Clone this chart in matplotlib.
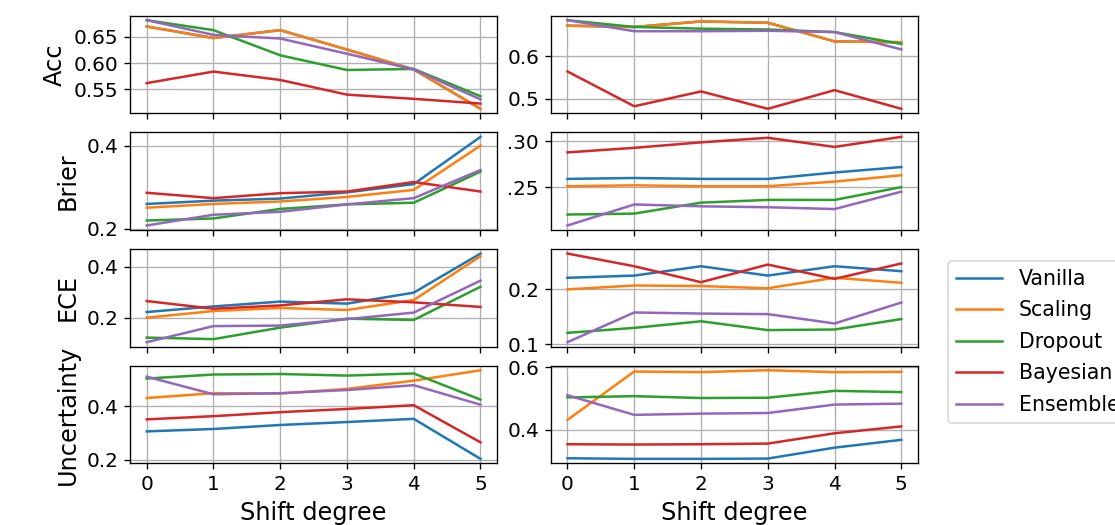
import matplotlib
matplotlib.use("Agg")
import matplotlib.pyplot as plt
from matplotlib.transforms import Bbox, TransformedBbox

shift = [0, 1, 2, 3, 4, 5]
methods = ["Vanilla", "Scaling", "Dropout", "Bayesian", "Ensemble"]
metrics = ["Acc", "Brier", "ECE", "Uncertainty"]

# ---- left column ----
left_acc_vanilla = [0.670, 0.648, 0.663, 0.626, 0.588, 0.513]
left_acc_scaling = [0.670, 0.648, 0.663, 0.626, 0.588, 0.513]
left_acc_dropout = [0.682, 0.663, 0.615, 0.587, 0.589, 0.537]
left_acc_bayesian = [0.562, 0.584, 0.568, 0.540, 0.532, 0.523]
left_acc_ensemble = [0.682, 0.654, 0.647, 0.618, 0.588, 0.531]

left_brier_vanilla = [0.260, 0.268, 0.273, 0.288, 0.308, 0.422]
left_brier_scaling = [0.251, 0.260, 0.266, 0.277, 0.294, 0.401]
left_brier_dropout = [0.220, 0.225, 0.248, 0.259, 0.263, 0.338]
left_brier_bayesian = [0.287, 0.274, 0.286, 0.290, 0.313, 0.290]
left_brier_ensemble = [0.208, 0.234, 0.241, 0.259, 0.274, 0.342]

left_ece_vanilla = [0.223, 0.245, 0.264, 0.256, 0.299, 0.452]
left_ece_scaling = [0.201, 0.227, 0.239, 0.231, 0.270, 0.442]
left_ece_dropout = [0.123, 0.117, 0.162, 0.197, 0.192, 0.322]
left_ece_bayesian = [0.266, 0.236, 0.249, 0.273, 0.261, 0.243]
left_ece_ensemble = [0.105, 0.168, 0.170, 0.195, 0.221, 0.346]

left_unc_vanilla = [0.306, 0.315, 0.330, 0.341, 0.353, 0.203]
left_unc_scaling = [0.431, 0.449, 0.448, 0.465, 0.496, 0.535]
left_unc_dropout = [0.504, 0.519, 0.521, 0.515, 0.523, 0.425]
left_unc_bayesian = [0.351, 0.363, 0.378, 0.390, 0.404, 0.265]
left_unc_ensemble = [0.511, 0.445, 0.449, 0.461, 0.479, 0.406]

# ---- right column ----
right_acc_vanilla = [0.672, 0.669, 0.682, 0.679, 0.635, 0.633]
right_acc_scaling = [0.672, 0.669, 0.682, 0.679, 0.635, 0.633]
right_acc_dropout = [0.685, 0.669, 0.665, 0.663, 0.657, 0.629]
right_acc_bayesian = [0.564, 0.482, 0.517, 0.476, 0.520, 0.476]
right_acc_ensemble = [0.685, 0.659, 0.659, 0.660, 0.657, 0.616]

right_brier_vanilla = [0.259, 0.260, 0.259, 0.259, 0.266, 0.272]
right_brier_scaling = [0.251, 0.252, 0.251, 0.251, 0.256, 0.263]
right_brier_dropout = [0.220, 0.221, 0.233, 0.236, 0.236, 0.250]
right_brier_bayesian = [0.288, 0.293, 0.299, 0.304, 0.294, 0.305]
right_brier_ensemble = [0.208, 0.231, 0.229, 0.228, 0.226, 0.245]

right_ece_vanilla = [0.221, 0.225, 0.242, 0.225, 0.242, 0.233]
right_ece_scaling = [0.200, 0.207, 0.206, 0.202, 0.221, 0.212]
right_ece_dropout = [0.121, 0.130, 0.142, 0.126, 0.127, 0.146]
right_ece_bayesian = [0.265, 0.242, 0.213, 0.245, 0.219, 0.247]
right_ece_ensemble = [0.104, 0.158, 0.156, 0.155, 0.138, 0.176]

right_unc_vanilla = [0.308, 0.306, 0.306, 0.307, 0.342, 0.367]
right_unc_scaling = [0.431, 0.586, 0.584, 0.590, 0.584, 0.585]
right_unc_dropout = [0.503, 0.507, 0.501, 0.502, 0.524, 0.520]
right_unc_bayesian = [0.353, 0.352, 0.353, 0.355, 0.388, 0.410]
right_unc_ensemble = [0.510, 0.447, 0.451, 0.453, 0.480, 0.483]

# y tick values per panel (row-major: left, right)
left_yticks = [[0.55, 0.60, 0.65], [0.2, 0.4], [0.2, 0.4], [0.2, 0.4]]
left_yticklabels = [["0.55", "0.60", "0.65"], ["0.2", "0.4"], ["0.2", "0.4"], ["0.2", "0.4"]]
right_yticks = [[0.5, 0.6], [0.25, 0.30], [0.1, 0.2], [0.4, 0.6]]
right_yticklabels = [["0.5", "0.6"], ["0.25", "0.30"], ["0.1", "0.2"], ["0.4", "0.6"]]

left_data = [
    [left_acc_vanilla, left_acc_scaling, left_acc_dropout, left_acc_bayesian, left_acc_ensemble],
    [left_brier_vanilla, left_brier_scaling, left_brier_dropout, left_brier_bayesian, left_brier_ensemble],
    [left_ece_vanilla, left_ece_scaling, left_ece_dropout, left_ece_bayesian, left_ece_ensemble],
    [left_unc_vanilla, left_unc_scaling, left_unc_dropout, left_unc_bayesian, left_unc_ensemble],
]
right_data = [
    [right_acc_vanilla, right_acc_scaling, right_acc_dropout, right_acc_bayesian, right_acc_ensemble],
    [right_brier_vanilla, right_brier_scaling, right_brier_dropout, right_brier_bayesian, right_brier_ensemble],
    [right_ece_vanilla, right_ece_scaling, right_ece_dropout, right_ece_bayesian, right_ece_ensemble],
    [right_unc_vanilla, right_unc_scaling, right_unc_dropout, right_unc_bayesian, right_unc_ensemble],
]

plt.rcParams["font.size"] = 12
plt.rcParams["font.family"] = ["DejaVu Sans"]

DPI = 120
fig, axes = plt.subplots(4, 2, figsize=(1115 / DPI, 525 / DPI), dpi=DPI, sharex="col")
fig.subplots_adjust(left=0.1166, right=0.8233, top=0.970, bottom=0.1175,
                    wspace=0.146, hspace=0.197)

colors = ["C0", "C1", "C2", "C3", "C4"]
handles = []
for r in range(4):
    axL = axes[r, 0]
    axR = axes[r, 1]
    for m in range(5):
        ln, = axL.plot(shift, left_data[r][m], color=colors[m], lw=1.5, label=methods[m])
        axR.plot(shift, right_data[r][m], color=colors[m], lw=1.5)
        if r == 0:
            handles.append(ln)
    axL.set_yticks(left_yticks[r])
    axL.set_yticklabels(left_yticklabels[r])
    axR.set_yticks(right_yticks[r])
    axR.set_yticklabels(right_yticklabels[r])
    axL.set_ylabel(metrics[r], fontsize=14.4)
    for ax in (axL, axR):
        ax.grid(True)
        ax.set_xticks(shift)
    axL.set_zorder(1)

# right Brier tick labels are partly hidden behind the left column in the reference
axB = axes[1, 1]
clip = TransformedBbox(Bbox([[-0.12, -1.0], [1.0, 2.0]]), axB.transAxes)
for lab in axB.get_yticklabels():
    lab.set_clip_box(clip)
    lab.set_clip_on(True)

for c in range(2):
    axes[3, c].set_xlabel("Shift degree", fontsize=14.4)
    axes[3, c].set_xticklabels([str(v) for v in shift])

fig.legend(handles, methods, loc="center left", bbox_to_anchor=(948 / 1115, 0.349),
           borderaxespad=0, fontsize=12.3, handlelength=2.25, labelspacing=0.56)

fig.savefig("out.png", dpi=DPI)
